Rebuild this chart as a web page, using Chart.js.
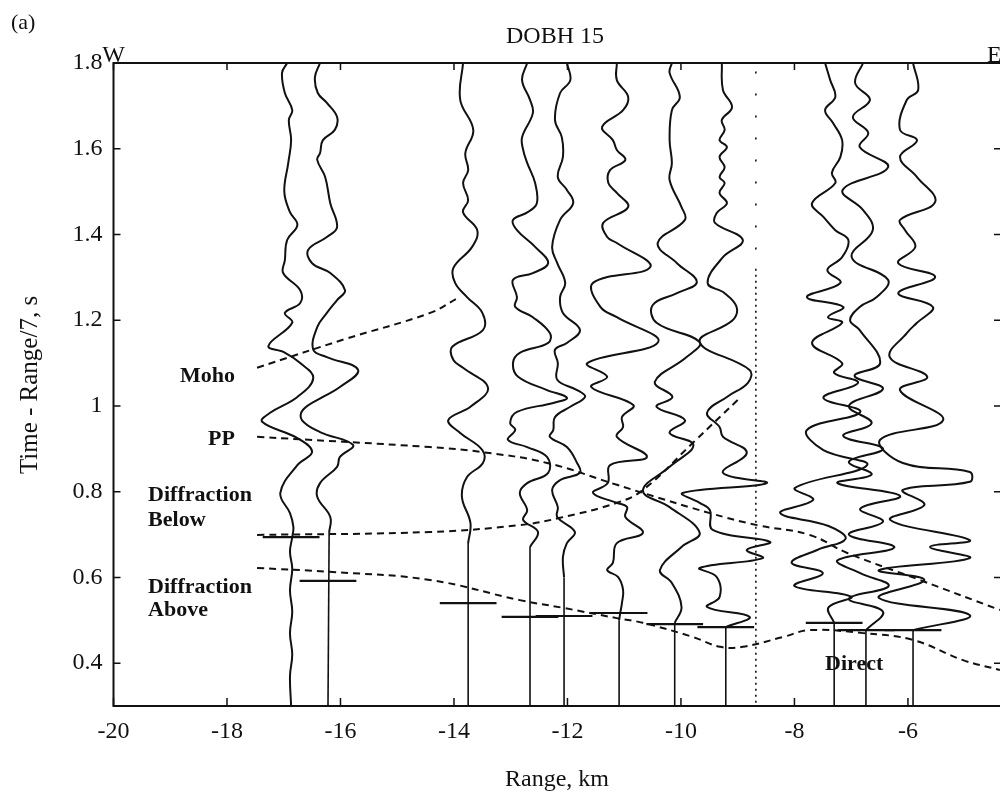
<!DOCTYPE html>
<html>
<head>
<meta charset="utf-8">
<script src="https://cdn.jsdelivr.net/npm/chart.js@4.4.1/dist/chart.umd.min.js"></script>
<style>
    html, body { margin: 0; padding: 0; background: #fff; overflow: hidden; }
    #wrap { width: 1009px; height: 795px; }
</style>
</head>
<body>
<div id="wrap"><canvas id="chart" width="1009" height="795"></canvas></div>
<script>
// axes
const xTickValues = [-20, -18, -16, -14, -12, -10, -8, -6];
const yTickValues = [0.4, 0.6, 0.8, 1.0, 1.2, 1.4, 1.6, 1.8];
const yTickLabels = ["0.4", "0.6", "0.8", "1", "1.2", "1.4", "1.6", "1.8"];

// stations: range of each trace (km) and its picked arrival time (s)
const traceRanges = [-16.87, -16.22, -13.75, -12.66, -12.06, -11.09, -10.11, -9.21, -7.30, -6.74, -5.91];
const pickTimes = [0.694, 0.592, 0.540, 0.508, 0.510, 0.517, 0.491, 0.484, 0.494, 0.477, 0.477];
const pickHalfWidth = 0.5;

// seismograms: [reduced time, horizontal offset in km]
const traceA = [[1.80,-0.07],[1.777,-0.16],[1.73,-0.11],[1.69,0.02],[1.667,-0.04],[1.62,0],[1.567,-0.05],[1.50,-0.12],[1.452,-0.02],[1.422,0.11],[1.387,-0.07],[1.34,-0.11],[1.31,-0.14],[1.27,0.16],[1.24,0.16],[1.217,-0.11],[1.194,0.02],[1.14,-0.40],[1.125,-0.12],[1.10,0.16],[1.065,0.39],[1.021,0.11],[0.984,-0.37],[0.963,-0.51],[0.925,0.11],[0.893,0.37],[0.862,0.11],[0.797,-0.19],[0.75,-0.02],[0.718,0.04],[0.694,0.02],[0.66,-0.02],[0.62,0.02],[0.57,-0.02],[0.52,0.02],[0.47,-0.02],[0.42,0.02],[0.37,-0.02],[0.30,0]];
const traceB = [[1.80,-0.14],[1.767,-0.23],[1.73,-0.18],[1.707,-0.02],[1.674,0.16],[1.644,0.12],[1.62,-0.09],[1.59,-0.14],[1.574,-0.19],[1.534,-0.05],[1.473,0.04],[1.417,0.16],[1.394,-0.02],[1.364,-0.35],[1.333,-0.28],[1.31,0.04],[1.27,0.30],[1.247,0.16],[1.217,-0.02],[1.184,-0.19],[1.131,-0.26],[1.114,-0.02],[1.084,0.53],[1.044,0.21],[1.021,-0.09],[0.991,-0.44],[0.967,-0.46],[0.939,-0.14],[0.909,0.44],[0.881,0.21],[0.858,0.16],[0.82,-0.14],[0.788,-0.19],[0.741,0.04],[0.704,0.02]];
const traceC = [[1.80,-0.09],[1.714,-0.14],[1.644,0.09],[1.59,-0.05],[1.55,0],[1.52,-0.09],[1.48,0],[1.452,-0.09],[1.41,0.16],[1.371,0.07],[1.322,-0.26],[1.287,-0.23],[1.254,-0.02],[1.217,0.25],[1.177,0.26],[1.138,-0.28],[1.107,-0.26],[1.089,-0.09],[1.042,0.35],[0.998,0.04],[0.967,-0.35],[0.937,-0.14],[0.897,0.25],[0.867,0.26],[0.834,-0.02],[0.788,-0.11],[0.727,0.04],[0.68,0]];
const traceD = [[1.80,-0.05],[1.76,-0.14],[1.714,0],[1.683,0.05],[1.627,-0.14],[1.597,-0.12],[1.567,-0.05],[1.52,0.09],[1.473,0.12],[1.452,-0.04],[1.434,-0.30],[1.41,-0.23],[1.371,0.09],[1.333,0.32],[1.31,0.05],[1.294,-0.30],[1.254,-0.23],[1.231,-0.26],[1.207,0.05],[1.17,0.35],[1.147,0.32],[1.124,-0.18],[1.10,-0.30],[1.068,-0.21],[1.037,0.30],[1.019,0.65],[1.007,0.41],[0.986,-0.23],[0.96,-0.35],[0.944,-0.26],[0.921,-0.39],[0.904,-0.05],[0.881,0.30],[0.844,0.32],[0.82,-0.05],[0.797,-0.18],[0.757,-0.05],[0.734,-0.12],[0.706,0.14],[0.671,0]];
const traceE = [[1.80,0.05],[1.76,0.11],[1.73,-0.07],[1.667,-0.16],[1.627,-0.04],[1.581,-0.02],[1.534,-0.11],[1.504,0.05],[1.473,0.16],[1.434,-0.07],[1.371,-0.21],[1.333,-0.12],[1.287,0.02],[1.254,-0.07],[1.217,-0.02],[1.177,0.28],[1.147,0.05],[1.131,-0.16],[1.10,-0.11],[1.061,-0.12],[1.037,0.23],[1.021,0.37],[0.998,0.11],[0.974,-0.16],[0.944,-0.19],[0.928,-0.25],[0.904,0.05],[0.867,0.23],[0.844,0.28],[0.827,-0.07],[0.804,-0.21],[0.764,-0.11],[0.741,-0.12],[0.706,0.19],[0.68,0.05],[0.648,-0.02],[0.60,0]];
const traceF = [[1.80,-0.04],[1.76,-0.04],[1.721,0.16],[1.69,0.07],[1.651,-0.30],[1.62,-0.11],[1.597,-0.04],[1.574,0.11],[1.55,-0.16],[1.52,-0.19],[1.497,-0.04],[1.464,0.16],[1.427,-0.28],[1.394,-0.21],[1.38,-0.04],[1.324,0.55],[1.287,-0.46],[1.231,-0.33],[1.207,-0.04],[1.149,0.69],[1.10,-0.56],[1.068,-0.21],[1.044,-0.49],[1.002,0.25],[0.974,0.05],[0.951,0.07],[0.928,-0.04],[0.881,0.49],[0.862,-0.16],[0.82,-0.20],[0.797,-0.46],[0.774,-0.04],[0.764,0.14],[0.741,0.11],[0.704,0.42],[0.68,-0.04],[0.634,-0.11],[0.617,-0.21],[0.601,-0.02],[0.571,0.07],[0.54,0.05],[0.517,0.02],[0.50,0]];
const traceG = [[1.80,-0.05],[1.777,-0.09],[1.721,0.09],[1.69,-0.05],[1.62,-0.09],[1.567,-0.05],[1.527,-0.09],[1.464,0.12],[1.434,0.18],[1.38,-0.30],[1.333,0.04],[1.289,0.39],[1.263,0.04],[1.235,-0.39],[1.194,-0.32],[1.149,0.44],[1.114,0.21],[1.056,-0.35],[1.021,-0.04],[0.998,-0.32],[0.967,0.18],[0.937,-0.09],[0.909,0.33],[0.858,-0.09],[0.802,-0.56],[0.764,-0.09],[0.704,0.44],[0.671,0.12],[0.617,-0.26],[0.587,-0.05],[0.531,0.12],[0.494,0]];
const traceH = [[1.80,-0.07],[1.737,-0.05],[1.697,0.11],[1.667,-0.07],[1.644,-0.02],[1.62,-0.11],[1.604,0.02],[1.581,-0.11],[1.557,-0.02],[1.534,-0.11],[1.52,-0.02],[1.497,-0.11],[1.473,0.02],[1.45,-0.16],[1.427,-0.19],[1.387,0.30],[1.347,-0.05],[1.287,-0.32],[1.263,-0.02],[1.231,0.19],[1.20,0.12],[1.149,-0.46],[1.084,0.42],[1.054,0.39],[1.021,0.02],[0.984,-0.33],[0.951,-0.11],[0.928,-0.05],[0.891,0.37],[0.844,-0.05],[0.82,0.72],[0.797,-0.76],[0.774,-0.46],[0.757,-0.28],[0.711,-0.23],[0.683,0.78],[0.664,0.37],[0.645,0.65],[0.622,-0.46],[0.601,-0.16],[0.554,-0.11],[0.531,-0.33],[0.508,0.42],[0.484,0]];
const traceI = [[1.80,-0.16],[1.76,-0.07],[1.721,0.02],[1.69,-0.16],[1.66,-0.02],[1.62,0.14],[1.581,0.11],[1.544,-0.04],[1.52,0.02],[1.473,-0.39],[1.441,-0.19],[1.41,0.02],[1.387,0.25],[1.347,0.14],[1.317,-0.12],[1.287,0.11],[1.254,-0.48],[1.231,0.16],[1.207,-0.11],[1.194,0.14],[1.147,-0.39],[1.10,0.14],[1.077,0],[1.054,0.42],[1.019,-0.19],[0.986,0.46],[0.944,-0.48],[0.897,-0.19],[0.862,0.58],[0.809,-0.69],[0.781,-0.37],[0.75,-0.95],[0.72,-0.10],[0.69,0.20],[0.664,-0.30],[0.634,-0.75],[0.61,-0.20],[0.58,-0.70],[0.555,0.30],[0.53,-0.10],[0.494,0]];
const traceJ = [[1.80,-0.05],[1.753,-0.19],[1.714,0.07],[1.674,-0.23],[1.637,0.04],[1.604,-0.11],[1.557,0.39],[1.504,-0.41],[1.457,-0.05],[1.41,0.12],[1.347,-0.25],[1.294,0.39],[1.254,0.19],[1.231,-0.11],[1.20,-0.28],[1.177,-0.11],[1.10,0.25],[1.07,-0.20],[1.04,0.30],[1.00,-0.30],[0.96,0.10],[0.93,-0.40],[0.90,0.30],[0.87,-0.30],[0.84,0.10],[0.82,-0.50],[0.79,0.60],[0.76,-0.10],[0.73,0.30],[0.70,-0.30],[0.67,0.50],[0.64,-0.50],[0.61,-0.10],[0.58,0.40],[0.55,-0.30],[0.52,0.30],[0.477,0]];
const traceK = [[1.80,0],[1.737,0.09],[1.714,-0.11],[1.644,-0.23],[1.62,0.07],[1.581,-0.23],[1.534,0.07],[1.476,0.39],[1.434,-0.23],[1.41,-0.14],[1.371,0.04],[1.333,-0.26],[1.301,0.39],[1.263,-0.26],[1.231,0.35],[1.194,0.07],[1.17,-0.11],[1.114,-0.41],[1.068,0.25],[1.037,-0.23],[0.967,0.53],[0.921,-0.58],[0.867,-0.18],[0.846,1.0],[0.823,1.0],[0.804,-0.18],[0.769,0.20],[0.734,-0.40],[0.687,1.0],[0.671,0.30],[0.645,1.0],[0.617,-0.60],[0.594,0.20],[0.552,-0.60],[0.512,1.0],[0.477,0]];
const traces = [traceA, traceB, traceC, traceD, traceE, traceF, traceG, traceH, traceI, traceJ, traceK];

// travel-time curves: [range km, reduced time s]
const mohoCurve = [[-17.47,1.089],[-15.92,1.156],[-14.42,1.217],[-13.93,1.252]];
const ppCurve = [[-17.47,0.928],[-14.42,0.904],[-13.54,0.893],[-12.36,0.867],[-11.13,0.816],[-10.67,0.797],[-9.49,0.750],[-8.66,0.722],[-7.73,0.699],[-7.07,0.657],[-5.79,0.594],[-4.38,0.524]];
const diffBelowCurve = [[-17.47,0.699],[-14.42,0.706],[-12.84,0.722],[-12.13,0.739],[-11.13,0.774],[-10.67,0.804],[-9.79,0.914],[-8.96,1.019]];
const diffAboveCurve = [[-17.47,0.622],[-16.19,0.613],[-14.42,0.594],[-12.84,0.547],[-12.08,0.529],[-11.13,0.505],[-10.67,0.494],[-9.79,0.461],[-9.31,0.438],[-8.91,0.438],[-8.20,0.461],[-7.73,0.477],[-6.79,0.470],[-5.91,0.454],[-5.03,0.407],[-4.38,0.384]];
const markerRange = -8.68;
const timeMin = 0.3;

// curve labels: text, range, time, alignment
const curveLabels = [
    ["Moho", -17.86, 1.068, "right"],
    ["PP", -17.86, 0.921, "right"],
    ["Diffraction", -19.39, 0.792, "left"],
    ["Below", -19.39, 0.734, "left"],
    ["Diffraction", -19.39, 0.578, "left"],
    ["Above", -19.39, 0.524, "left"],
    ["Direct", -7.46, 0.398, "left"]
];

const INK = "#111";
const SERIF = "'Liberation Serif', 'Times New Roman', serif";

let datasets = [];

traces.forEach(function(tr, i) {
    let base = traceRanges[i];
    let last = tr[tr.length - 1];
    datasets.push({
        data: tr.map(function(p) { return {x: base + p[1], y: p[0]}; }),
        borderColor: INK,
        borderWidth: 2,
        tension: 0.4,
        pointRadius: 0
    });
    // quiet part of the trace, before the first arrival
    if (last[0] > timeMin) {
        datasets.push({
            data: [{x: base + last[1], y: last[0]}, {x: base, y: timeMin}],
            borderColor: INK,
            borderWidth: 1.6,
            pointRadius: 0
        });
    }
    datasets.push({
        data: [{x: base - pickHalfWidth, y: pickTimes[i]}, {x: base + pickHalfWidth, y: pickTimes[i]}],
        borderColor: INK,
        borderWidth: 2.2,
        pointRadius: 0
    });
});

[mohoCurve, ppCurve, diffBelowCurve, diffAboveCurve].forEach(function(c) {
    datasets.push({
        data: c.map(function(p) { return {x: p[0], y: p[1]}; }),
        borderColor: INK,
        borderWidth: 2,
        borderDash: [7, 5],
        tension: 0.4,
        pointRadius: 0
    });
});

datasets.push({
    data: [{x: markerRange, y: 1.78}, {x: markerRange, y: 1.32}],
    borderColor: INK,
    borderWidth: 1.6,
    borderDash: [2, 20],
    pointRadius: 0
});
datasets.push({
    data: [{x: markerRange, y: 1.32}, {x: markerRange, y: timeMin}],
    borderColor: INK,
    borderWidth: 1.6,
    borderDash: [2, 4],
    pointRadius: 0
});

const framePlugin = {
    id: "frame",
    afterDatasetsDraw: function(chart) {
        let ctx = chart.ctx;
        let a = chart.chartArea;
        let xs = chart.scales.x;
        let ys = chart.scales.y;
        ctx.save();
        ctx.strokeStyle = INK;
        ctx.lineWidth = 2;
        ctx.strokeRect(a.left, a.top, a.right - a.left, a.bottom - a.top);
        ctx.lineWidth = 1.5;
        ctx.beginPath();
        xTickValues.forEach(function(v) {
            let px = xs.getPixelForValue(v);
            ctx.moveTo(px, a.bottom); ctx.lineTo(px, a.bottom - 8);
            ctx.moveTo(px, a.top); ctx.lineTo(px, a.top + 7);
        });
        yTickValues.forEach(function(v) {
            let py = ys.getPixelForValue(v);
            ctx.moveTo(a.left, py); ctx.lineTo(a.left + 7, py);
            ctx.moveTo(a.right, py); ctx.lineTo(a.right - 7, py);
        });
        ctx.stroke();

        ctx.fillStyle = INK;
        ctx.font = "bold 22px " + SERIF;
        ctx.textBaseline = "middle";
        curveLabels.forEach(function(l) {
            ctx.textAlign = l[3];
            ctx.fillText(l[0], xs.getPixelForValue(l[1]), ys.getPixelForValue(l[2]));
        });

        ctx.font = "24px " + SERIF;
        ctx.textAlign = "center";
        ctx.fillText("DOBH 15", 555, 37);
        ctx.fillText("Range, km", 557, 780);
        ctx.textBaseline = "alphabetic";
        ctx.fillText("W", a.left, a.top - 1);
        ctx.textAlign = "left";
        ctx.fillText("E", 987, a.top - 1);
        ctx.font = "22px " + SERIF;
        ctx.textBaseline = "middle";
        ctx.fillText("(a)", 11, 23);

        ctx.translate(30, 385);
        ctx.rotate(-Math.PI / 2);
        ctx.textAlign = "center";
        ctx.font = "25px " + SERIF;
        ctx.fillText("Time - Range/7, s", 0, 0);
        ctx.restore();
    }
};

new Chart(document.getElementById("chart"), {
    type: "scatter",
    data: {datasets: datasets},
    options: {
        responsive: false,
        animation: false,
        devicePixelRatio: 1,
        showLine: true,
        layout: {padding: {left: 0, top: 63, right: 8, bottom: 0}},
        plugins: {legend: {display: false}, tooltip: {enabled: false}},
        scales: {
            x: {
                type: "linear",
                min: -20,
                max: -4.36,
                afterBuildTicks: function(s) { s.ticks = xTickValues.map(function(v) { return {value: v}; }); },
                afterFit: function(s) { s.height = 89; },
                grid: {display: false, drawTicks: false},
                border: {display: false},
                ticks: {
                    color: INK,
                    padding: 11,
                    font: {family: SERIF, size: 24},
                    callback: function(v) { return String(v); }
                }
            },
            y: {
                type: "linear",
                min: timeMin,
                max: 1.8,
                afterBuildTicks: function(s) { s.ticks = yTickValues.map(function(v) { return {value: v}; }); },
                afterFit: function(s) { s.width = 113.5; },
                grid: {display: false, drawTicks: false},
                border: {display: false},
                ticks: {
                    color: INK,
                    padding: 11,
                    font: {family: SERIF, size: 24},
                    callback: function(v, i) { return yTickLabels[i]; }
                }
            }
        }
    },
    plugins: [framePlugin]
});
</script>
</body>
</html>
